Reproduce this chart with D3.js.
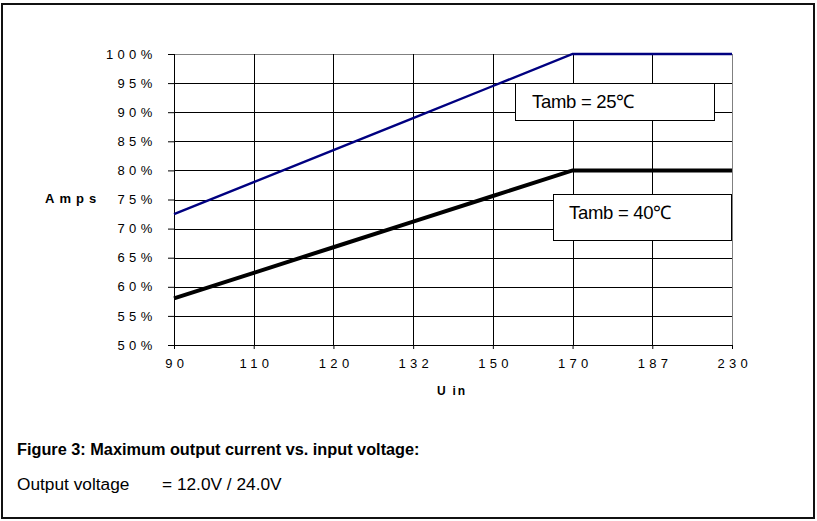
<!DOCTYPE html>
<html>
<head>
<meta charset="utf-8">
<script src="https://cdn.jsdelivr.net/npm/d3@7"></script>
<style>
  body { margin: 0; background: #fff; }
  svg { display: block; font-family: "Liberation Sans", Arial, sans-serif; }
  .tick text { font-size: 13px; letter-spacing: 4.3px; fill: #000; }
</style>
</head>
<body>
<script>
// data
var voltages = ['90', '110', '120', '132', '150', '170', '187', '230'];
var amps25 = [72.5, 78, 83.5, 89, 94.5, 100, 100, 100];
var amps40 = [58, 62.4, 66.8, 71.2, 75.6, 80, 80, 80];
var yTicks = [50, 55, 60, 65, 70, 75, 80, 85, 90, 95, 100];

var W = 817, H = 521;
var margin = {top: 54, right: 85, bottom: 176, left: 174};
var w = W - margin.left - margin.right;
var h = H - margin.top - margin.bottom;

var svg = d3.select('body').append('svg')
            .attr('width', W)
            .attr('height', H);

// outer frame
svg.append('rect')
   .attr('x', 2).attr('y', 4)
   .attr('width', 812).attr('height', 514)
   .attr('fill', 'none')
   .attr('stroke', '#111')
   .attr('stroke-width', 2);

var focus = svg.append('g')
               .attr('transform', 'translate(' + margin.left + ',' + margin.top + ')');

var xScale = d3.scalePoint().domain(voltages).range([0, w]).padding(0);
var yScale = d3.scaleLinear().domain([50, 100]).range([h, 0]);

// gridlines
focus.append('g').selectAll('line.hgrid')
     .data(yTicks)
     .enter().append('line')
     .attr('x1', 0).attr('x2', w)
     .attr('y1', function(d) { return Math.round(yScale(d)) + 0.5; })
     .attr('y2', function(d) { return Math.round(yScale(d)) + 0.5; })
     .attr('stroke', function(d) { return d == 100 ? '#808080' : '#000'; })
     .attr('stroke-width', 1);

focus.append('g').selectAll('line.vgrid')
     .data(voltages)
     .enter().append('line')
     .attr('x1', function(d) { return Math.round(xScale(d)) + 0.5; })
     .attr('x2', function(d) { return Math.round(xScale(d)) + 0.5; })
     .attr('y1', 0).attr('y2', h)
     .attr('stroke', function(d, i) { return i == voltages.length - 1 ? '#808080' : '#000'; })
     .attr('stroke-width', 1);

// axes
var yAxis = d3.axisLeft(yScale)
              .tickValues(yTicks)
              .tickSize(6)
              .tickPadding(11.5)
              .tickFormat(function(d) { return d + '%'; });
var xAxis = d3.axisBottom(xScale)
              .tickSize(4)
              .tickPadding(10);

var gy = focus.append('g').attr('class', 'axis axis--y').call(yAxis);
gy.select('.domain').attr('stroke', '#000');
gy.selectAll('.tick line').attr('stroke', '#000');

var gx = focus.append('g').attr('class', 'axis axis--x')
              .attr('transform', 'translate(0,' + h + ')')
              .call(xAxis);
gx.select('.domain').attr('stroke', '#000');
gx.selectAll('.tick line').attr('stroke', '#000');
gx.selectAll('.tick text').attr('dx', '2.2px');

// lines
var line = function(vals) {
  return d3.line()
           .x(function(d, i) { return xScale(voltages[i]); })
           .y(function(d) { return yScale(d); })(vals);
};

focus.append('path')
     .attr('d', line(amps25))
     .attr('fill', 'none')
     .attr('stroke', '#000080')
     .attr('stroke-width', 2.4);

focus.append('path')
     .attr('d', line(amps40))
     .attr('fill', 'none')
     .attr('stroke', '#000')
     .attr('stroke-width', 4);

// label boxes
function labelBox(x, y, bw, bh, txt, tx, ty) {
  svg.append('rect')
     .attr('x', x + 0.5).attr('y', y + 0.5)
     .attr('width', bw).attr('height', bh)
     .attr('fill', '#fff')
     .attr('stroke', '#000')
     .attr('stroke-width', 1);
  svg.append('text')
     .attr('x', tx).attr('y', ty)
     .attr('font-size', '18.5px')
     .attr('letter-spacing', '-0.3px')
     .text(txt);
}
labelBox(515, 83, 199, 37, 'Tamb = 25\u2103', 532, 108);
labelBox(553, 194, 178, 46, 'Tamb = 40\u2103', 569, 219);

// axis titles
svg.append('text')
   .attr('x', 45).attr('y', 203)
   .attr('font-size', '13px')
   .attr('font-weight', 'bold')
   .attr('letter-spacing', '5px')
   .text('Amps');

svg.append('text')
   .attr('x', 437).attr('y', 395)
   .attr('font-size', '12px')
   .attr('font-weight', 'bold')
   .attr('letter-spacing', '1.8px')
   .text('U in');

// caption
svg.append('text')
   .attr('x', 17).attr('y', 455)
   .attr('font-size', '16.3px')
   .attr('font-weight', 'bold')
   .text('Figure 3: Maximum output current vs. input voltage:');

svg.append('text')
   .attr('x', 17).attr('y', 490)
   .attr('font-size', '17.3px')
   .text('Output voltage');

svg.append('text')
   .attr('x', 162).attr('y', 490)
   .attr('font-size', '17.3px')
   .text('= 12.0V / 24.0V');
</script>
</body>
</html>
